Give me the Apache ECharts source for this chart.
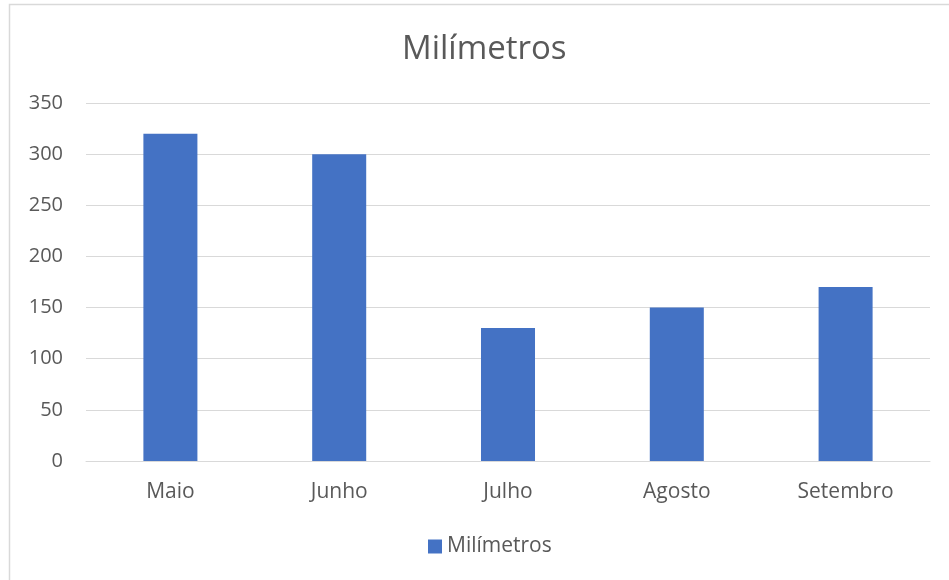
<!DOCTYPE html>
<html><head><meta charset="utf-8">
<script src="https://cdn.jsdelivr.net/npm/echarts@6/dist/echarts.min.js"></script>
<style>html,body{margin:0;padding:0;background:#fff;}#c{width:949px;height:580px;}</style>
</head><body><div id="c"></div>
<script>
const categories = ['Maio', 'Junho', 'Julho', 'Agosto', 'Setembro'];
const values = [320, 300, 130, 150, 170];
const seriesName = 'Milímetros';
const titleText = 'Milímetros';
const yTicks = [0, 50, 100, 150, 200, 250, 300, 350];

const chart = echarts.init(document.getElementById('c'), null, {renderer: 'canvas'});
const font = '"Open Sans", sans-serif';
chart.setOption({
  animation: false,
  graphic: [{type: 'rect', shape: {x: 9.5, y: 4.5, width: 960, height: 600},
    style: {fill: 'none', stroke: '#d9d9d9', lineWidth: 1.5}, silent: true}],
  title: {text: titleText, left: 397, top: 28,
    textStyle: {fontFamily: font, fontSize: 33, fontWeight: 'normal', color: '#595959'}},
  legend: {bottom: 18, left: 423, itemWidth: 14, itemHeight: 14, itemGap: 5,
    icon: 'rect', data: [seriesName],
    textStyle: {fontFamily: font, fontSize: 21, color: '#595959'}},
  grid: {left: 86, right: 19, top: 103, bottom: 119, containLabel: false},
  xAxis: {type: 'category', data: categories,
    axisLine: {lineStyle: {color: '#d9d9d9', width: 1}},
    axisTick: {show: false},
    axisLabel: {fontFamily: font, fontSize: 21, color: '#595959', margin: 21}},
  yAxis: {type: 'value', min: yTicks[0], max: yTicks[yTicks.length - 1], interval: 50,
    axisLine: {show: false}, axisTick: {show: false},
    splitLine: {lineStyle: {color: '#d9d9d9', width: 1}},
    axisLabel: {fontFamily: font, fontSize: 20, color: '#595959', margin: 23}},
  series: [{name: seriesName, type: 'bar', data: values, barWidth: '32%',
    itemStyle: {color: '#4472c4'}}]
});
</script></body></html>
